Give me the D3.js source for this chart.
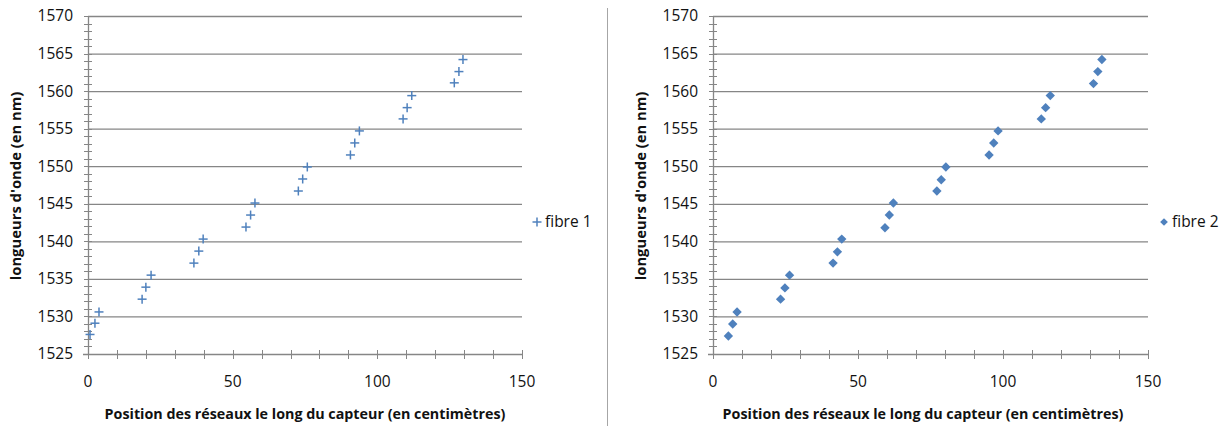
<!DOCTYPE html>
<html>
<head>
<meta charset="utf-8">
<script src="https://cdn.jsdelivr.net/npm/d3@7"></script>
<style>
  html, body { margin: 0; padding: 0; background: #fff; }
  svg { display: block; }
  text { font-family: "Open Sans", "Liberation Sans", sans-serif; fill: #111; }
</style>
</head>
<body>
<svg id="chart" width="1224" height="426"></svg>
<script>
// ---- data ----
const fibre1X = [0.7, 2.4, 3.8, 18.7, 20.0, 21.8, 36.6, 38.3, 39.8, 54.6, 56.2, 57.7,
                 72.7, 74.2, 75.8, 90.7, 92.2, 93.8, 108.9, 110.3, 111.9, 126.6, 128.2, 129.6];
const fibre1Y = [1527.6, 1529.1, 1530.6, 1532.3, 1533.9, 1535.5, 1537.1, 1538.7, 1540.3, 1541.9, 1543.5, 1545.1,
                 1546.7, 1548.3, 1549.9, 1551.5, 1553.1, 1554.7, 1556.3, 1557.8, 1559.4, 1561.1, 1562.6, 1564.2];
const fibre2X = [5.3, 6.8, 8.3, 23.3, 24.8, 26.4, 41.4, 42.9, 44.4, 59.3, 60.8, 62.2,
                 77.2, 78.7, 80.3, 95.2, 96.8, 98.3, 113.2, 114.7, 116.3, 131.2, 132.7, 134.1];
const fibre2Y = [1527.4, 1529.0, 1530.6, 1532.3, 1533.8, 1535.5, 1537.1, 1538.6, 1540.3, 1541.8, 1543.5, 1545.1,
                 1546.7, 1548.2, 1549.9, 1551.5, 1553.1, 1554.7, 1556.3, 1557.8, 1559.4, 1561.0, 1562.6, 1564.2];
const xTicks = [0, 50, 100, 150];
const yTicks = [1525, 1530, 1535, 1540, 1545, 1550, 1555, 1560, 1565, 1570];
const xTitle = "Position des réseaux le long du capteur (en centimètres)";
const yTitle = "longueurs d'onde (en nm)";
const seriesNames = ["fibre 1", "fibre 2"];

const blue = "#4F81BD";
const grid = "#868686";
const svg = d3.select("#chart");

function drawChart(cfg) {
  const g = svg.append("g");
  const x = d3.scaleLinear().domain([0, 150]).range([cfg.left, cfg.right]);
  const y = d3.scaleLinear().domain([1525, 1570]).range([cfg.bottom, cfg.top]);

  // gridlines
  g.append("g").selectAll("line").data(yTicks.filter(v => v > 1525)).join("line")
    .attr("x1", cfg.left).attr("x2", cfg.right)
    .attr("y1", d => y(d) + 0.5).attr("y2", d => y(d) + 0.5)
    .attr("stroke", grid).attr("stroke-width", 1.3);

  // minor ticks y
  const yMinor = d3.range(1525, 1570.01, 1);
  g.append("g").selectAll("line").data(yMinor).join("line")
    .attr("x1", cfg.left - 4).attr("x2", cfg.left + 4)
    .attr("y1", d => Math.round(y(d)) + 0.5).attr("y2", d => Math.round(y(d)) + 0.5)
    .attr("stroke", grid).attr("stroke-width", 1);
  // minor ticks x
  const xMinor = d3.range(0, 150.01, 10);
  g.append("g").selectAll("line").data(xMinor).join("line")
    .attr("x1", d => Math.round(x(d)) + 0.5).attr("x2", d => Math.round(x(d)) + 0.5)
    .attr("y1", cfg.bottom - 4).attr("y2", cfg.bottom + 5)
    .attr("stroke", grid).attr("stroke-width", 1);

  // axes lines
  g.append("line").attr("x1", cfg.left + 0.5).attr("x2", cfg.left + 0.5)
    .attr("y1", cfg.top).attr("y2", cfg.bottom).attr("stroke", grid).attr("stroke-width", 1.3);
  g.append("line").attr("x1", cfg.left - 5).attr("x2", cfg.right)
    .attr("y1", cfg.bottom + 0.5).attr("y2", cfg.bottom + 0.5).attr("stroke", grid).attr("stroke-width", 1.3);

  // y tick labels
  g.append("g").selectAll("text").data(yTicks).join("text")
    .attr("x", cfg.left - 15).attr("y", d => y(d)).attr("dy", "0.35em")
    .attr("text-anchor", "end").attr("font-size", 15.5).text(d => d);
  // x tick labels
  g.append("g").selectAll("text").data(xTicks).join("text")
    .attr("x", d => x(d)).attr("y", cfg.bottom + 33)
    .attr("text-anchor", "middle").attr("font-size", 15.5).text(d => d);

  // titles
  g.append("text").attr("x", cfg.xTitleX).attr("y", 419)
    .attr("text-anchor", "middle").attr("font-size", 14.3).attr("font-weight", "bold").text(xTitle);
  g.append("text").attr("transform", `translate(${cfg.yTitleX},186) rotate(-90)`)
    .attr("text-anchor", "middle").attr("font-size", 14.8).attr("font-weight", "bold").text(yTitle);

  // points
  const pts = cfg.xs.map((v, i) => [v, cfg.ys[i]]);
  const markers = g.append("g");
  if (cfg.marker === "plus") {
    const pg = markers.selectAll("g").data(pts).join("g")
      .attr("transform", d => `translate(${x(d[0])},${y(d[1])})`);
    pg.append("line").attr("x1", -4.5).attr("x2", 4.5).attr("y1", 0).attr("y2", 0)
      .attr("stroke", blue).attr("stroke-width", 1.5);
    pg.append("line").attr("x1", 0).attr("x2", 0).attr("y1", -4.5).attr("y2", 4.5)
      .attr("stroke", blue).attr("stroke-width", 1.5);
  } else {
    const sq = d3.symbol().type(d3.symbolSquare).size(44);
    markers.selectAll("path").data(pts).join("path")
      .attr("d", sq())
      .attr("transform", d => `translate(${x(d[0])},${y(d[1])}) rotate(45)`)
      .attr("fill", blue);
  }

  // legend
  const lg = g.append("g").attr("transform", `translate(${cfg.legendX},222)`);
  if (cfg.marker === "plus") {
    lg.append("line").attr("x1", -4.5).attr("x2", 4.5).attr("stroke", blue).attr("stroke-width", 1.5);
    lg.append("line").attr("y1", -4.5).attr("y2", 4.5).attr("stroke", blue).attr("stroke-width", 1.5);
  } else {
    lg.append("path").attr("d", d3.symbol().type(d3.symbolSquare).size(30)())
      .attr("transform", "rotate(45)").attr("fill", blue);
  }
  lg.append("text").attr("x", 8).attr("dy", "0.35em").attr("font-size", 15.5).text(cfg.name);
}

drawChart({ left: 88, right: 522, top: 16, bottom: 354, xs: fibre1X, ys: fibre1Y,
            marker: "plus", name: seriesNames[0], legendX: 537, xTitleX: 305, yTitleX: 21 });
drawChart({ left: 713, right: 1148, top: 16, bottom: 354, xs: fibre2X, ys: fibre2Y,
            marker: "diamond", name: seriesNames[1], legendX: 1164, xTitleX: 923, yTitleX: 646 });

// divider between the two charts
svg.append("line").attr("x1", 607.5).attr("x2", 607.5).attr("y1", 8).attr("y2", 426)
  .attr("stroke", "#a6a6a6").attr("stroke-width", 1);
</script>
</body>
</html>
